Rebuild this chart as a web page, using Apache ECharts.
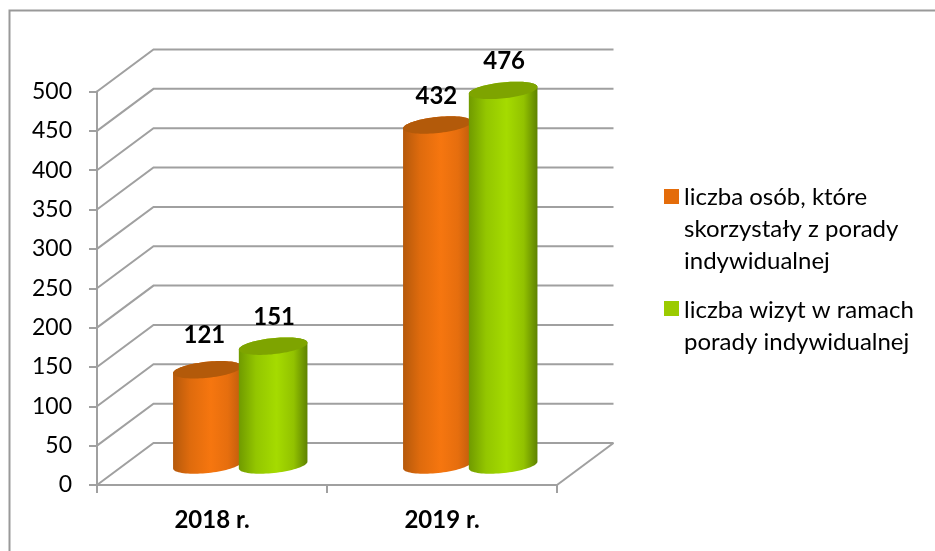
<!DOCTYPE html>
<html><head><meta charset="utf-8">
<style>html,body{margin:0;padding:0;background:#fff}#c{width:935px;height:551px}</style>
<script src="https://cdn.jsdelivr.net/npm/echarts@6/dist/echarts.min.js"></script>
</head><body><div id="c"></div>
<script>
const categories = ['2018 r.', '2019 r.'];
const personsName = 'liczba osób, które skorzystały z porady indywidualnej';
const visitsName = 'liczba wizyt w ramach porady indywidualnej';
const personsValues = [121, 432];
const visitsValues = [151, 476];
const yTicks = [0, 50, 100, 150, 200, 250, 300, 350, 400, 450, 500];

const FONT = 'Lato, "Open Sans", sans-serif';
const GRAY = '#a0a0a0';
const DEPTH_X = 56.5, DEPTH_Y = 42;
const RX_RATIO = 0.15, OFFSET_RATIO = 0.143, RY = 8, TILT = -6 * Math.PI / 180;

function ellipsePt(cx, cy, rx, t) {
  const x = rx * Math.cos(t), y = RY * Math.sin(t);
  return [cx + x * Math.cos(TILT) - y * Math.sin(TILT), cy + x * Math.sin(TILT) + y * Math.cos(TILT)];
}
function cylinder(side, stops, topColor) {
  return function (params, api) {
    const idx = api.value(0), val = api.value(1);
    const base = api.coord([idx, 0]), top = api.coord([idx, val]);
    const band = api.size([1, 0])[0];
    const rx = band * RX_RATIO;
    const dx = DEPTH_X / 2 + side * band * OFFSET_RATIO;
    const dy = -DEPTH_Y / 2 + 1;
    const bx = base[0] + dx, by = base[1] + dy, tx = bx, ty = top[1] + dy;
    const body = [], cap = [];
    for (let i = 0; i <= 40; i++) body.push(ellipsePt(bx, by, rx, Math.PI * i / 40));
    for (let i = 0; i <= 40; i++) body.push(ellipsePt(tx, ty, rx, Math.PI + Math.PI * i / 40));
    for (let i = 0; i < 80; i++) cap.push(ellipsePt(tx, ty, rx, 2 * Math.PI * i / 80));
    const nudgeY = val === 121 ? -6 : 0;
    const nudgeX = val === 121 ? -3 : (side < 0 ? -1 : 1);
    return {
      type: 'group',
      children: [
        { type: 'polygon', shape: { points: body }, style: { fill: {
            type: 'linear', x: 0, y: 0, x2: 1, y2: 0, colorStops: stops } } },
        { type: 'polygon', shape: { points: cap }, style: { fill: topColor } },
        { type: 'text', style: { text: String(val), x: tx + nudgeX, y: ty - 29 + nudgeY,
            align: 'center', verticalAlign: 'middle', fill: '#000',
            font: 'bold 24px ' + FONT } }
      ]
    };
  };
}
function walls(params, api) {
  const cs = params.coordSys;
  const v = api.value(1);
  const y = api.coord([0, v])[1];
  const x0 = cs.x, x1 = cs.x + cs.width;
  const style = { stroke: GRAY, lineWidth: 2, fill: 'none' };
  const children = [
    { type: 'polyline', shape: { points: [[x0, y], [x0 + DEPTH_X, y - DEPTH_Y], [x1 + DEPTH_X, y - DEPTH_Y]] }, style }
  ];
  if (v === 0) children.push({ type: 'line', shape: { x1: x1, y1: y, x2: x1 + DEPTH_X, y2: y - DEPTH_Y }, style });
  return { type: 'group', children };
}
const pairs = a => a.map((v, i) => [i, v]);
const chart = echarts.init(document.getElementById('c'), null, { renderer: 'canvas' });
chart.setOption({
  animation: false,
  backgroundColor: '#fff',
  grid: { left: 97, top: 91.5, width: 460, height: 393.5, containLabel: false },
  graphic: [{ type: 'polyline', silent: true, z: -10,
    shape: { points: [[9.5, 551], [9.5, 10.5], [935, 10.5]] },
    style: { fill: 'none', stroke: '#999', lineWidth: 2 } }],
  legend: [
    { data: [{ name: personsName, icon: 'path://M0 0L15 0L15 15L0 15Z M0 80L15 80' }],
      left: 664, top: 181, padding: 0, orient: 'vertical', itemWidth: 15, itemHeight: 80, itemGap: 0,
      selectedMode: false,
      formatter: () => 'liczba osób, które\nskorzystały z porady\nindywidualnej',
      textStyle: { fontFamily: FONT, fontSize: 24, color: '#000', lineHeight: 32 } },
    { data: [{ name: visitsName, icon: 'path://M0 0L15 0L15 15L0 15Z M0 50L15 50' }],
      left: 664, top: 294, padding: 0, orient: 'vertical', itemWidth: 15, itemHeight: 50, itemGap: 0,
      selectedMode: false,
      formatter: () => 'liczba wizyt w ramach\nporady indywidualnej',
      textStyle: { fontFamily: FONT, fontSize: 24, color: '#000', lineHeight: 32 } }
  ],
  xAxis: { type: 'category', data: categories, boundaryGap: true,
    axisLine: { lineStyle: { color: GRAY, width: 2 } },
    axisTick: { show: true, alignWithLabel: false, length: 8, lineStyle: { color: GRAY, width: 2 } },
    axisLabel: { margin: 23, fontFamily: FONT, fontSize: 24, fontWeight: 'bold', color: '#000' } },
  yAxis: { type: 'value', min: 0, max: 500, interval: 50,
    axisLine: { show: true, lineStyle: { color: GRAY, width: 2 } },
    axisTick: { show: true, length: 8, lineStyle: { color: GRAY, width: 2 } },
    axisLabel: { margin: 25, fontFamily: FONT, fontSize: 23, color: '#000', padding: [3, 0, 0, 0] },
    splitLine: { show: false } },
  series: [
    { type: 'custom', name: 'walls', silent: true, clip: false, z: 1, data: yTicks.map(v => [0, v]),
      encode: { x: 0, y: 1 }, renderItem: walls },
    { type: 'custom', name: personsName, z: 2, clip: false, encode: { x: 0, y: 1 }, data: pairs(personsValues),
      itemStyle: { color: '#e46c0a' },
      renderItem: cylinder(-1, [
        { offset: 0, color: '#b5590b' }, { offset: 0.25, color: '#df6b0d' },
        { offset: 0.55, color: '#f6760f' }, { offset: 0.8, color: '#e66e0e' }, { offset: 1, color: '#bf5d0c' }], '#b35a0a') },
    { type: 'custom', name: visitsName, z: 3, clip: false, encode: { x: 0, y: 1 }, data: pairs(visitsValues),
      itemStyle: { color: '#9bcb00' },
      renderItem: cylinder(1, [
        { offset: 0, color: '#709a00' }, { offset: 0.25, color: '#93c600' },
        { offset: 0.55, color: '#a5db00' }, { offset: 0.8, color: '#92c200' }, { offset: 1, color: '#5e8200' }], '#7ea400') }
  ]
});
</script></body></html>
